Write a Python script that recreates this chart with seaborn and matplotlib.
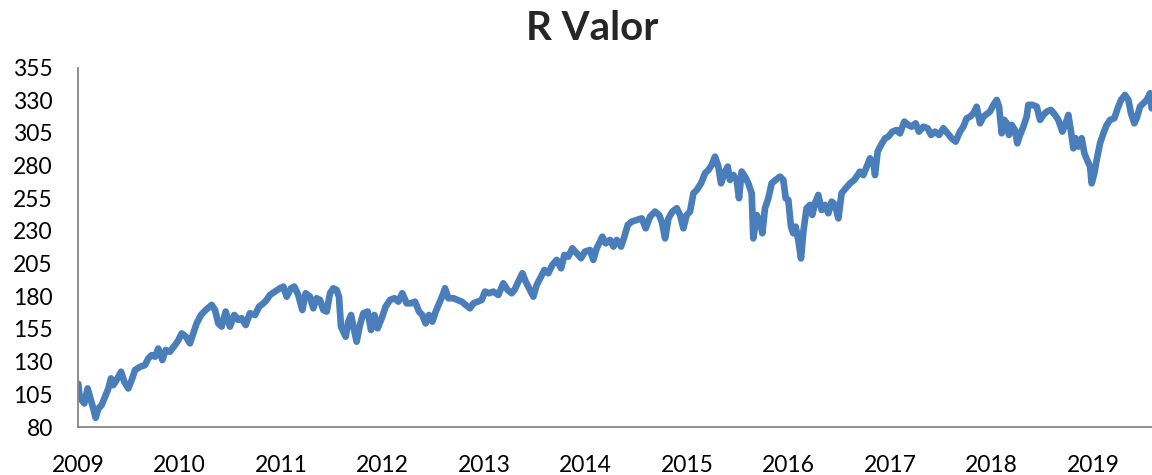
import pandas as pd
import matplotlib
matplotlib.use("Agg")
import matplotlib.pyplot as plt
import matplotlib.dates as mdates
import seaborn as sns

# ===============================
# Data (decimal year, value)
# ===============================
t_year = [
    # 2009
    2009.003, 2009.015, 2009.036, 2009.062, 2009.095, 2009.118, 2009.151, 2009.174,
    2009.200, 2009.233, 2009.266, 2009.299, 2009.325, 2009.348, 2009.381, 2009.424,
    2009.456, 2009.496, 2009.529, 2009.562, 2009.611, 2009.660, 2009.693, 2009.726,
    2009.759, 2009.791, 2009.831, 2009.864, 2009.906, 2009.956, 2009.989,
    # 2010
    2010.021, 2010.064, 2010.103, 2010.136, 2010.169, 2010.212, 2010.258, 2010.317,
    2010.350, 2010.382, 2010.415, 2010.455, 2010.497, 2010.540, 2010.580, 2010.612,
    2010.652, 2010.694, 2010.744, 2010.783, 2010.826, 2010.858, 2010.891, 2010.940,
    2010.990,
    # 2011
    2011.023, 2011.056, 2011.098, 2011.131, 2011.170, 2011.210, 2011.243, 2011.286,
    2011.318, 2011.351, 2011.384, 2011.417, 2011.450, 2011.483, 2011.515, 2011.548,
    2011.571, 2011.591, 2011.614, 2011.637, 2011.663, 2011.690, 2011.713, 2011.745,
    2011.778, 2011.811, 2011.854, 2011.887, 2011.920, 2011.952, 2011.992,
    # 2012
    2012.031, 2012.074, 2012.117, 2012.156, 2012.195, 2012.238, 2012.281, 2012.320,
    2012.360, 2012.392, 2012.425, 2012.458, 2012.491, 2012.524, 2012.566, 2012.599,
    2012.616, 2012.649, 2012.698, 2012.740, 2012.780, 2012.819, 2012.862, 2012.895,
    2012.938, 2012.977,
    # 2013
    2013.010, 2013.049, 2013.092, 2013.141, 2013.190, 2013.233, 2013.273, 2013.300,
    2013.339, 2013.378, 2013.411, 2013.444, 2013.486, 2013.519, 2013.562, 2013.595,
    2013.634, 2013.673, 2013.716, 2013.759, 2013.792, 2013.831, 2013.870, 2013.913,
    2013.956, 2013.995,
    # 2014
    2014.044, 2014.077, 2014.110, 2014.143, 2014.166, 2014.199, 2014.242, 2014.275,
    2014.307, 2014.350, 2014.383, 2014.416, 2014.455, 2014.505, 2014.554, 2014.593,
    2014.636, 2014.685, 2014.725, 2014.751, 2014.784, 2014.817, 2014.856, 2014.899,
    2014.932, 2014.964, 2014.997,
    # 2015
    2015.030, 2015.063, 2015.096, 2015.138, 2015.178, 2015.211, 2015.244, 2015.276,
    2015.309, 2015.335, 2015.375, 2015.401, 2015.423, 2015.456, 2015.489, 2015.512,
    2015.538, 2015.571, 2015.604, 2015.637, 2015.653, 2015.686, 2015.719, 2015.742,
    2015.768, 2015.801, 2015.834, 2015.873, 2015.916, 2015.949, 2015.972, 2015.998,
    # 2016
    2016.024, 2016.047, 2016.070, 2016.096, 2016.123, 2016.146, 2016.178, 2016.211,
    2016.234, 2016.261, 2016.293, 2016.326, 2016.359, 2016.392, 2016.425, 2016.458,
    2016.491, 2016.523, 2016.563, 2016.606, 2016.648, 2016.704, 2016.737, 2016.770,
    2016.803, 2016.836, 2016.852, 2016.878, 2016.911, 2016.951, 2016.983,
    # 2017
    2017.023, 2017.065, 2017.098, 2017.141, 2017.180, 2017.213, 2017.252, 2017.285,
    2017.328, 2017.371, 2017.404, 2017.443, 2017.483, 2017.525, 2017.568, 2017.607,
    2017.647, 2017.689, 2017.722, 2017.755, 2017.788, 2017.821, 2017.854, 2017.887,
    2017.920, 2017.985,
    # 2018
    2018.018, 2018.051, 2018.074, 2018.100, 2018.126, 2018.150, 2018.172, 2018.199,
    2018.231, 2018.254, 2018.281, 2018.314, 2018.346, 2018.363, 2018.402, 2018.445,
    2018.478, 2018.511, 2018.544, 2018.586, 2018.626, 2018.658, 2018.698, 2018.731,
    2018.757, 2018.783, 2018.806, 2018.829, 2018.855, 2018.888, 2018.915, 2018.941,
    2018.971, 2018.987,
    # 2019
    2019.013, 2019.036, 2019.069, 2019.102, 2019.135, 2019.168, 2019.210, 2019.243,
    2019.276, 2019.315, 2019.348, 2019.374, 2019.407, 2019.430, 2019.463, 2019.496,
    2019.529, 2019.562, 2019.578,
]

r_valor = [
    # 2009
    113.0, 104.0, 100.6, 98.0, 109.5, 103.0, 94.0, 87.0,
    94.0, 96.8, 103.0, 109.5, 117.2, 112.0, 116.0, 122.3,
    114.6, 109.5, 116.0, 123.6, 126.0, 127.4, 132.5, 135.0,
    133.8, 140.0, 131.2, 138.9, 137.6, 142.7, 146.5,
    # 2010
    151.6, 149.0, 144.0, 151.6, 159.3, 165.7, 169.5, 173.4,
    169.5, 159.3, 156.8, 168.3, 156.8, 165.7, 161.9, 163.2,
    158.0, 167.0, 165.7, 172.0, 174.6, 177.2, 181.0, 183.6,
    186.1,
    # 2011
    187.4, 179.7, 186.1, 187.4, 181.0, 169.5, 182.3, 179.7,
    170.8, 178.5, 177.2, 169.5, 168.3, 182.3, 186.1, 184.8,
    179.7, 156.8, 153.0, 149.1, 160.6, 165.7, 156.8, 145.3,
    158.0, 167.0, 168.3, 154.2, 165.7, 155.5, 163.2,
    # 2012
    172.1, 177.2, 178.5, 175.9, 182.3, 174.6, 174.6, 175.9,
    168.3, 165.7, 159.3, 165.7, 160.6, 168.3, 175.9, 182.3,
    186.1, 178.5, 178.5, 177.2, 175.9, 173.4, 170.8, 174.6,
    175.9, 177.2,
    # 2013
    183.6, 182.3, 183.6, 181.0, 189.9, 184.8, 182.3, 184.8,
    191.2, 197.6, 191.2, 186.1, 179.7, 188.7, 195.0, 200.1,
    197.6, 204.0, 207.8, 201.4, 211.6, 210.3, 216.7, 212.9,
    209.1, 214.2,
    # 2014
    215.4, 207.8, 216.7, 221.8, 225.6, 220.5, 223.1, 218.0,
    223.1, 218.0, 225.6, 234.5, 237.1, 238.4, 239.6, 232.0,
    240.9, 244.8, 242.2, 237.1, 224.3, 239.6, 244.8, 247.3,
    242.2, 232.0, 242.2,
    # 2015
    244.8, 258.8, 261.3, 266.4, 274.1, 276.6, 280.5, 286.8,
    279.2, 266.4, 275.4, 279.2, 269.0, 272.8, 269.0, 255.0,
    275.4, 271.5, 266.4, 258.8, 224.3, 242.2, 237.1, 228.2,
    247.3, 255.0, 266.4, 269.0, 271.5, 269.0, 255.0, 253.7,
    # 2016
    233.3, 228.2, 233.3, 223.1, 209.0, 229.4, 247.3, 249.9,
    242.2, 251.1, 257.5, 246.0, 249.9, 243.5, 252.4, 249.9,
    239.6, 258.8, 262.6, 266.4, 269.0, 275.3, 272.7, 279.1,
    285.5, 281.7, 272.7, 290.6, 295.7, 300.8, 302.1,
    # 2017
    305.9, 307.2, 304.6, 313.6, 311.0, 309.7, 312.3, 305.9,
    309.7, 308.5, 303.4, 305.9, 303.4, 308.5, 304.6, 300.8,
    298.3, 305.9, 309.7, 316.1, 317.4, 319.9, 325.0, 312.3,
    317.4, 321.3,
    # 2018
    326.4, 330.2, 325.1, 304.7, 314.9, 312.3, 303.4, 311.1,
    307.2, 297.0, 303.4, 309.8, 317.4, 326.4, 326.4, 325.1,
    314.9, 318.7, 321.3, 322.5, 318.7, 314.9, 306.0, 312.3,
    318.7, 306.0, 293.2, 300.9, 294.5, 300.9, 289.4, 284.3,
    279.2, 266.4,
    # 2019
    274.1, 284.3, 297.0, 304.7, 311.1, 314.9, 316.2, 323.8,
    330.2, 334.0, 330.2, 320.0, 312.3, 316.2, 325.1, 327.6,
    330.2, 335.3, 323.8,
]

y_ticks = [80, 105, 130, 155, 180, 205, 230, 255, 280, 305, 330, 355]


def to_date(t):
    return pd.Timestamp("2009-01-01") + pd.to_timedelta((t - 2009) * 365.25, unit="D")


df = pd.DataFrame({"t": t_year, "valor": r_valor})
df["fecha"] = to_date(df["t"])

# ===============================
# Plot
# ===============================
sns.set_style("white")
plt.rcParams["font.family"] = ["Lato", "DejaVu Sans"]

fig = plt.figure(figsize=(11.52, 4.75), dpi=100)
ax = fig.add_axes([78 / 1152, 48 / 475, 1 - 78 / 1152, (427 - 67.5) / 475])

sns.lineplot(data=df, x="fecha", y="valor", ax=ax, color="#4A7EBB",
             linewidth=4.8, solid_joinstyle="round", solid_capstyle="round")

ax.set_ylim(80, 355)
ax.set_yticks(y_ticks)
ax.set_xlim(to_date(2009.0), to_date(2019.581))
ax.xaxis.set_major_locator(mdates.YearLocator())
ax.xaxis.set_major_formatter(mdates.DateFormatter("%Y"))
ax.set_xlabel("")
ax.set_ylabel("")

for side in ["top", "right"]:
    ax.spines[side].set_visible(False)
for side in ["left", "bottom"]:
    ax.spines[side].set_color("#868686")
    ax.spines[side].set_linewidth(1.3)

ax.tick_params(axis="both", direction="out", length=6, width=1.3,
               color="#868686", labelsize=16.5, labelcolor="black")
ax.tick_params(axis="x", pad=14)
ax.tick_params(axis="y", pad=12)

fig.text(592 / 1152, 1 - 40 / 475, "R Valor", ha="center", va="baseline",
         fontsize=29, fontweight="bold")

fig.savefig("out.png", dpi=100)
